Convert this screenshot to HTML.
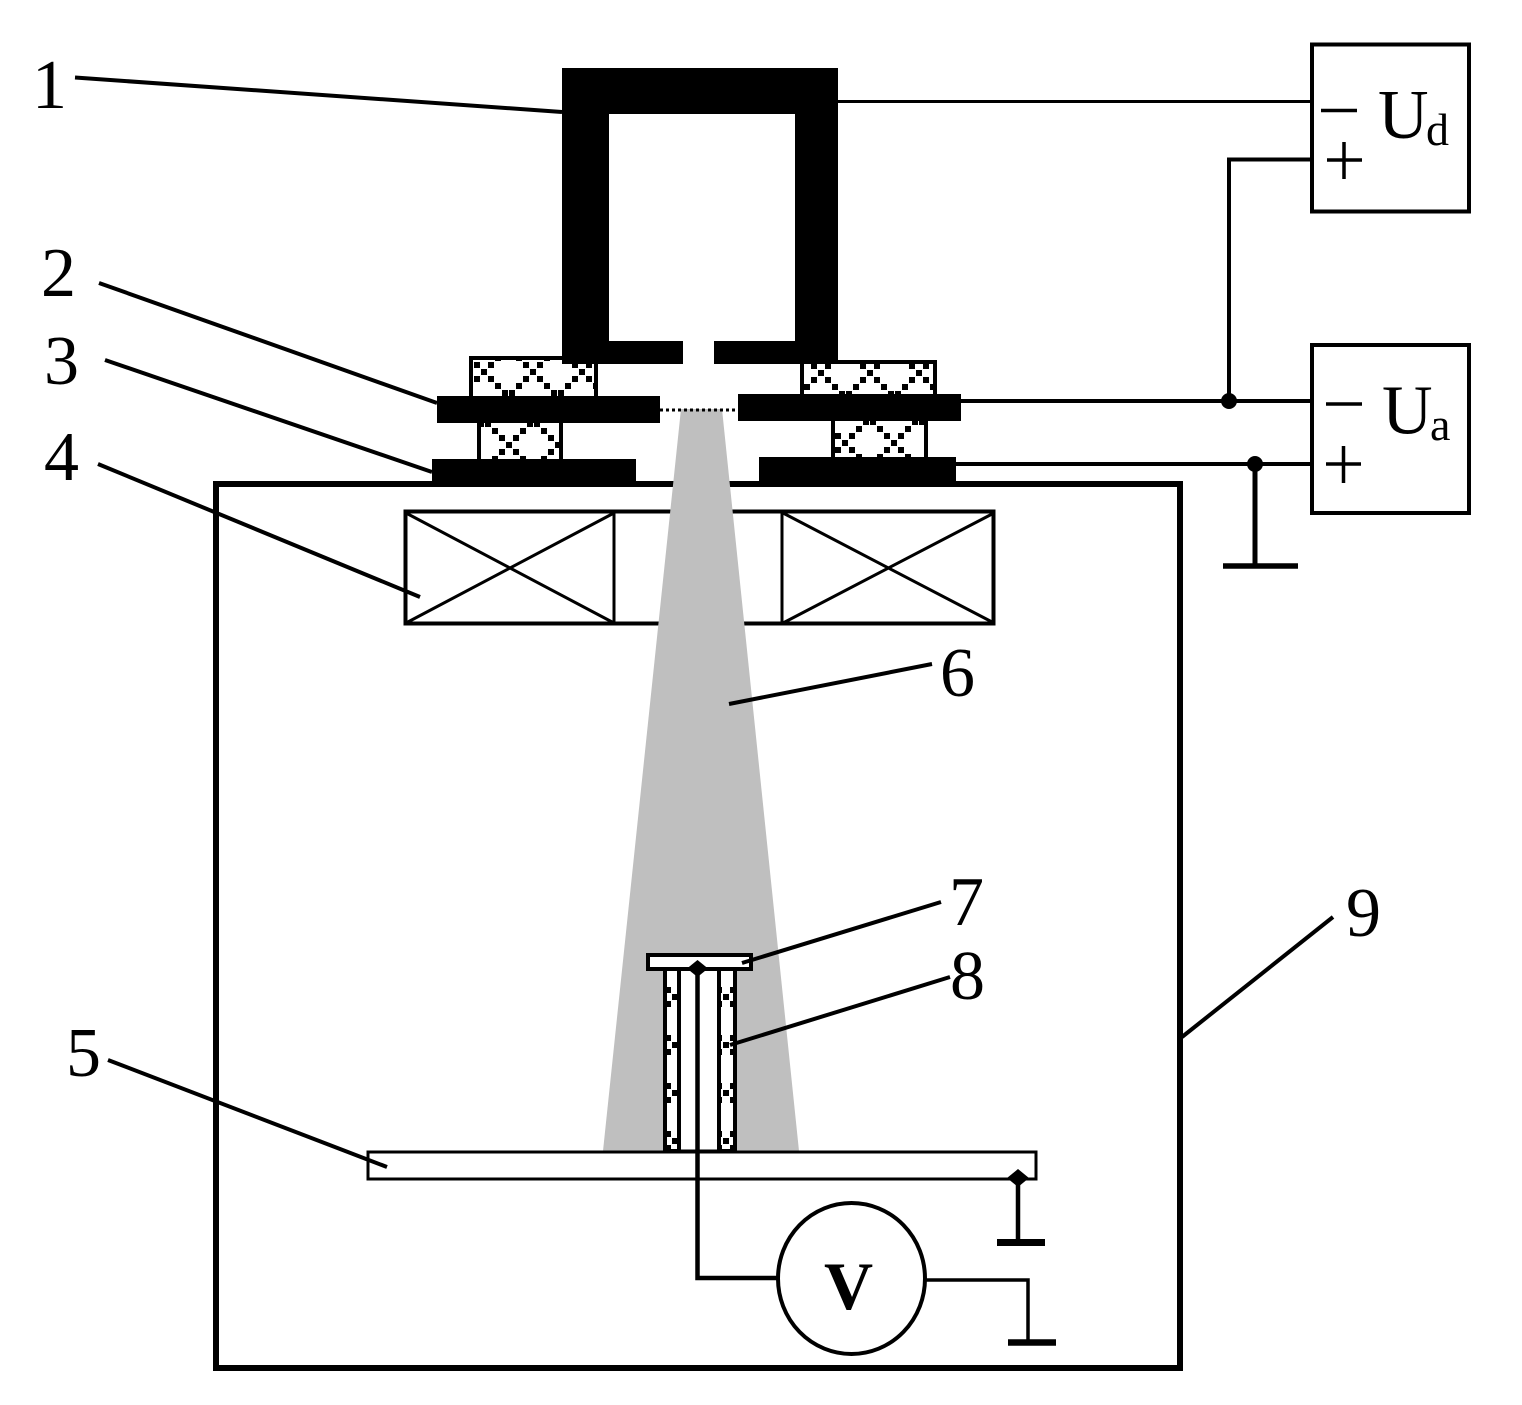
<!DOCTYPE html>
<html><head><meta charset="utf-8"><style>
html,body{margin:0;padding:0;background:#fff;width:1522px;height:1405px;overflow:hidden}
svg{display:block}
text{font-family:"Liberation Serif",serif;fill:#000}
</style></head><body>
<svg width="1522" height="1405" viewBox="0 0 1522 1405" xmlns="http://www.w3.org/2000/svg">
<defs>
<pattern id="p" x="0" y="0" width="49" height="48" patternUnits="userSpaceOnUse">
<path transform="translate(24.5,24)" fill="#000" stroke="#000" stroke-width="1" d="M-2.500-2.500h5v5h-5zM4.500-9.500h5v5h-5zM11.500-16.500h5v5h-5zM18.500-23.500h5v5h-5zM4.500 4.500h5v5h-5zM11.500 11.500h5v5h-5zM18.500 18.500h5v5h-5zM-9.500-9.500h5v5h-5zM-16.500-16.500h5v5h-5zM-23.500-23.500h5v5h-5zM-9.500 4.500h5v5h-5zM-16.500 11.500h5v5h-5zM-23.500 18.500h5v5h-5z"/>
</pattern>
<pattern id="a" href="#p" patternTransform="translate(459.500,348)"/>
<pattern id="b" href="#p" patternTransform="translate(796.500,349)"/>
<pattern id="c" href="#p" patternTransform="translate(484.500,421)"/>
<pattern id="d" href="#p" patternTransform="translate(820.500,419)"/>
<pattern id="e" href="#p" patternTransform="translate(650.500,973)"/>
<pattern id="f" href="#p" patternTransform="translate(701.500,973)"/>
</defs>

<!-- chamber -->
<rect x="216" y="484" width="964" height="884" fill="#fff" stroke="#000" stroke-width="6"/>

<!-- coil -->
<rect x="405.500" y="511.500" width="588" height="112" fill="#fff" stroke="#000" stroke-width="4"/>
<g stroke="#000" stroke-width="3" fill="none">
<path d="M614 511V624M782 511V624"/>
<path d="M406 513L614 623M406 623L614 513M783 623L994 513M783 513L994 623"/>
</g>

<!-- beam -->
<polygon points="681,409 722,409 799,1151 603,1151" fill="#bfbfbf"/>

<!-- insulators -->
<g stroke="#000" stroke-width="4">
<rect x="471" y="358" width="125" height="40" fill="#fff"/>
<rect x="471" y="358" width="125" height="40" fill="url(#a)"/>
<rect x="802" y="362" width="133" height="34" fill="#fff"/>
<rect x="802" y="362" width="133" height="34" fill="url(#b)"/>
<rect x="479" y="421" width="82" height="40" fill="#fff"/>
<rect x="479" y="421" width="82" height="40" fill="url(#c)"/>
<rect x="833" y="419" width="93" height="40" fill="#fff"/>
<rect x="833" y="419" width="93" height="40" fill="url(#d)"/>
</g>

<!-- cathode -->
<path fill="#000" d="M562 68H838V364H714V341H795V114H609V341H683V364H562Z"/>

<!-- plates -->
<g fill="#000">
<rect x="437" y="396" width="223" height="27"/>
<rect x="738" y="394" width="223" height="27"/>
<rect x="432" y="459" width="204" height="24"/>
<rect x="759" y="457" width="197" height="26"/>
</g>
<line x1="660" y1="410" x2="738" y2="410" stroke="#000" stroke-width="3" stroke-dasharray="3 3"/>

<!-- base plate 5 -->
<rect x="368" y="1152" width="668" height="27" fill="#fff" stroke="#000" stroke-width="3"/>

<!-- probe -->
<g stroke="#000" stroke-width="4">
<rect x="665" y="969" width="14" height="182" fill="#fff"/>
<rect x="665" y="969" width="14" height="182" fill="url(#e)"/>
<rect x="719" y="969" width="16" height="182" fill="#fff"/>
<rect x="719" y="969" width="16" height="182" fill="url(#f)"/>
<rect x="681" y="971" width="36" height="180" fill="#fff" stroke="none"/>
<rect x="648" y="955" width="103" height="14" fill="#fff"/>
</g>
<path fill="#000" d="M697.500 960L708 968.500L697.500 977L687 968.500Z"/>
<path d="M697.500 968V1278H778" fill="none" stroke="#000" stroke-width="4.500"/>
<line x1="680" y1="1151" x2="718" y2="1151" stroke="#000" stroke-width="3"/>

<!-- ground of base -->
<path fill="#000" d="M1018 1169L1029 1178L1018 1187L1007 1178Z"/>
<path d="M1018 1178V1242" fill="none" stroke="#000" stroke-width="4.500"/>
<path d="M997 1242.500H1045" fill="none" stroke="#000" stroke-width="7"/>

<!-- voltmeter -->
<ellipse cx="851.500" cy="1278.500" rx="73.500" ry="75.500" fill="#fff" stroke="#000" stroke-width="4"/>
<text x="848.500" y="1309" font-size="68" font-weight="bold" text-anchor="middle">V</text>
<path d="M925 1280H1028V1342" fill="none" stroke="#000" stroke-width="3.500"/>
<path d="M1008 1342.500H1056" fill="none" stroke="#000" stroke-width="6.500"/>

<!-- right circuit -->
<g fill="none" stroke="#000">
<rect x="1312" y="44.500" width="157" height="167" stroke-width="4"/>
<rect x="1312" y="345" width="157" height="168" stroke-width="4"/>
<path d="M838 101.500H1311" stroke-width="3"/>
<path d="M1311 159.500H1229V401" stroke-width="4"/>
<path d="M961 401H1311" stroke-width="4"/>
<path d="M956 464H1311" stroke-width="4"/>
<path d="M1255 464V566" stroke-width="5"/>
<path d="M1223 566H1298" stroke-width="5.500"/>
<path d="M1321 110.500H1357M1327 160H1362M1344 142V179" stroke-width="3.500"/>
<path d="M1326 404H1362M1326 464H1361M1343.500 446V483" stroke-width="3.500"/>
</g>
<circle cx="1229" cy="401" r="8" fill="#000"/>
<circle cx="1255" cy="464" r="8" fill="#000"/>

<text x="1378" y="138" font-size="70">U</text>
<text x="1426" y="145" font-size="46">d</text>
<text x="1382" y="433.500" font-size="70">U</text>
<text x="1430" y="440" font-size="46">a</text>

<!-- leaders -->
<g stroke="#000" stroke-width="4" fill="none">
<path d="M75 77.500L562 112"/>
<path d="M99 283L437 403"/>
<path d="M105 360L432 472"/>
<path d="M98 464L420 597"/>
<path d="M108 1060L387 1167"/>
<path d="M932 664L729 704"/>
<path d="M941 902L742 963"/>
<path d="M950 977L730 1045"/>
<path d="M1333 917L1182 1037"/>
</g>

<!-- labels -->
<g font-size="70">
<text x="32" y="108">1</text>
<text x="41" y="296">2</text>
<text x="44" y="384">3</text>
<text x="44" y="480">4</text>
<text x="66" y="1076">5</text>
<text x="940" y="696">6</text>
<text x="949" y="925">7</text>
<text x="950" y="999">8</text>
<text x="1346" y="936">9</text>
</g>
</svg>
</body></html>
